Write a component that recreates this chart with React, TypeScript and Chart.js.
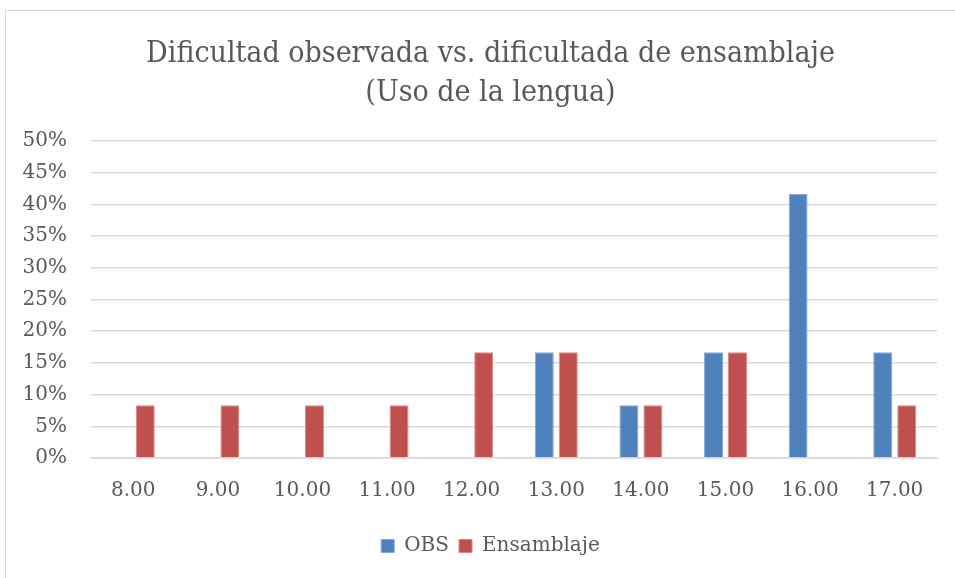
import React, { useEffect, useRef } from "react";
import { Chart, registerables } from "chart.js";

Chart.register(...registerables);

const categories = ["8.00", "9.00", "10.00", "11.00", "12.00", "13.00", "14.00", "15.00", "16.00", "17.00"];
const obsValues = [0, 0, 0, 0, 0, 16.67, 8.33, 16.67, 41.67, 16.67];
const ensamblajeValues = [8.33, 8.33, 8.33, 8.33, 16.67, 16.67, 8.33, 16.67, 0, 8.33];
const titleLines = ["Dificultad observada vs. dificultada de ensamblaje", "(Uso de la lengua)"];

const TITLE_FONT = "'DejaVu Serif Condensed', 'DejaVu Serif', serif";
const FONT = "'DejaVu Serif', serif";
const TEXT = "#595959";

const unclipY = {
  id: "unclipY",
  afterLayout(chart: any) {
    const y = chart.scales.y;
    if (y) y.left = 0;
  },
};

export default function App() {
  const ref = useRef<HTMLCanvasElement | null>(null);
  useEffect(() => {
    if (!ref.current) return;
    const chart = new Chart(ref.current, {
      type: "bar",
      data: {
        labels: categories,
        datasets: [
          {
            label: "OBS",
            data: obsValues,
            backgroundColor: "#4F81BD",
            borderColor: "#86A6D6",
            borderWidth: 1,
            barPercentage: 0.79,
            categoryPercentage: 0.567,
          },
          {
            label: "Ensamblaje",
            data: ensamblajeValues,
            backgroundColor: "#C0504D",
            borderColor: "#D98886",
            borderWidth: 1,
            barPercentage: 0.79,
            categoryPercentage: 0.567,
          },
        ],
      },
      plugins: [unclipY],
      options: {
        animation: false,
        responsive: false,
        maintainAspectRatio: false,
        layout: { padding: { top: 10, right: 18, bottom: 12, left: 44 } },
        plugins: {
          title: {
            display: true,
            text: titleLines,
            color: TEXT,
            font: { family: TITLE_FONT, size: 30, weight: "normal", lineHeight: 1.3 },
            padding: { top: 25, bottom: 28 },
          },
          legend: {
            position: "bottom",
            labels: {
              color: TEXT,
              font: { family: FONT, size: 20 },
              boxWidth: 13,
              boxHeight: 13,
              padding: 10,
            },
          },
          tooltip: { enabled: false },
        },
        scales: {
          x: {
            grid: { display: false, drawTicks: false },
            border: { display: true, color: "#d9d9d9", width: 1.5 },
            ticks: { color: TEXT, font: { family: FONT, size: 20 }, padding: 21 },
            afterFit: (s: any) => {
              s.height = 68;
            },
          },
          y: {
            min: 0,
            max: 50,
            grid: { color: "#d9d9d9", lineWidth: 1.5, drawTicks: false },
            border: { display: false },
            ticks: {
              stepSize: 5,
              color: TEXT,
              font: { family: FONT, size: 20 },
              padding: 24,
              callback: (v: any) => v + "%",
            },
            afterFit: (s: any) => {
              s.width = 47;
            },
          },
        },
      },
    });
    return () => chart.destroy();
  }, []);
  return (
    <div style={{ position: "fixed", left: 0, top: 0, width: 955, height: 578, background: "#fff", overflow: "hidden" }}>
      <div
        style={{
          position: "absolute",
          left: 5,
          top: 10,
          width: 980,
          height: 600,
          border: "1.5px solid #d9d9d9",
          boxSizing: "border-box",
        }}
      />
      <canvas ref={ref} width={955} height={578} style={{ position: "absolute", left: 0, top: 0 }} />
    </div>
  );
}
